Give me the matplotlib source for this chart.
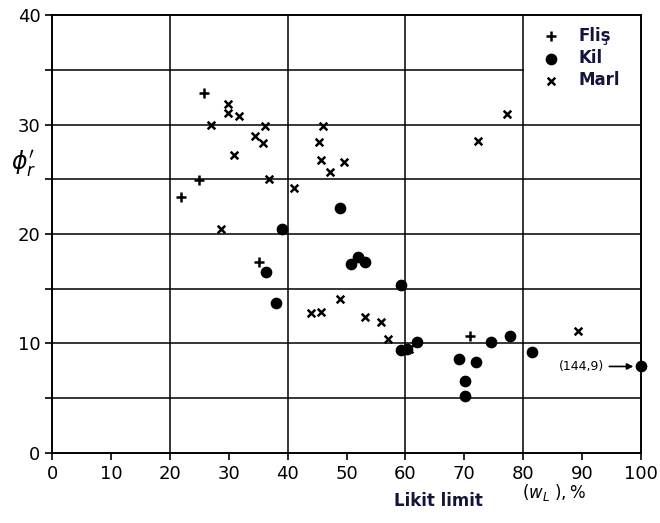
import matplotlib.pyplot as plt

# Fliş (+)
flis_wl = [25.8, 25.0, 21.9, 35.1, 71.0]
flis_phi = [32.9, 24.9, 23.4, 17.4, 10.7]

# Kil (dots)
kil_wl = [36.4, 38.1, 39.0, 48.9, 50.8, 51.9, 53.1, 59.2, 59.2, 60.2, 61.9,
          69.1, 72.0, 70.2, 70.2, 74.5, 77.7, 81.5, 100.0]
kil_phi = [16.5, 13.7, 20.5, 22.4, 17.3, 17.9, 17.4, 15.3, 9.4, 9.5, 10.1,
           8.6, 8.3, 6.6, 5.2, 10.1, 10.7, 9.2, 7.9]

# Marl (x)
marl_wl = [29.8, 29.8, 31.8, 27.0, 36.2, 34.4, 35.9, 30.9, 36.9, 41.0, 28.7,
           46.0, 45.4, 45.7, 47.2, 49.6, 77.2, 72.3, 44.0, 45.7, 48.9, 53.1,
           55.8, 57.0, 60.7, 89.4]
marl_phi = [31.9, 31.1, 30.8, 30.0, 29.9, 29.0, 28.3, 27.2, 25.0, 24.2, 20.5,
            29.9, 28.4, 26.8, 25.7, 26.6, 31.0, 28.5, 12.8, 12.9, 14.1, 12.4,
            12.0, 10.4, 9.5, 11.1]

x_ticks = [0, 10, 20, 30, 40, 50, 60, 70, 80, 90, 100]
y_ticks = [0, 10, 20, 30, 40]

fig = plt.figure(figsize=(6.6, 5.23), dpi=100)
ax = fig.add_axes([0.079, 0.134, 0.892, 0.837])

# grid: vertical every 20, horizontal every 5 (none at 35 inside legend cell)
for gx in [20, 40, 60, 80]:
    ax.axvline(gx, color="black", lw=1.1, zorder=1)
for gy in [5, 10, 15, 20, 25, 30]:
    ax.axhline(gy, color="black", lw=1.1, zorder=1)
ax.plot([0, 80], [35, 35], color="black", lw=1.1, zorder=1)

ax.scatter(flis_wl, flis_phi, marker="+", s=60, color="black", linewidths=1.8,
           label="Fliş", zorder=3)
ax.scatter(kil_wl, kil_phi, marker="o", s=55, color="black", label="Kil",
           zorder=3, clip_on=False)
ax.scatter(marl_wl, marl_phi, marker="x", s=30, color="black", linewidths=1.8,
           label="Marl", zorder=3)

ax.annotate("(144,9)", xy=(99.2, 7.9), xytext=(86.0, 7.9), fontsize=9,
            va="center", ha="left",
            arrowprops=dict(arrowstyle="-|>", color="black", lw=1.2))

ax.set_xlim(0, 100)
ax.set_ylim(0, 40)
ax.set_xticks(x_ticks)
ax.set_yticks(y_ticks)
ax.set_yticks([5, 15, 25, 35], minor=True)
ax.tick_params(axis="both", labelsize=13, direction="out", length=5, width=1.2)
ax.tick_params(axis="y", which="minor", length=5, width=1.2)
for sp in ax.spines.values():
    sp.set_linewidth(1.4)

ax.text(-0.048, 0.66, r"$\phi_r'$", transform=ax.transAxes, fontsize=17,
        ha="center", va="center")

navy = "#14143c"
fig.text(0.664, 0.042, "Likit limit", fontsize=12, fontweight="bold",
         color=navy, ha="center", va="center")
fig.text(0.84, 0.058, r"$(w_L\ ),\%$", fontsize=12, ha="center", va="center")

leg = ax.legend(loc="upper left", bbox_to_anchor=(0.8, 1.0), frameon=False,
                handletextpad=0.6, labelspacing=0.25,
                prop={"weight": "bold", "size": 12}, borderaxespad=0.3)
for t in leg.get_texts():
    t.set_color(navy)

fig.savefig("out.png", dpi=100)
